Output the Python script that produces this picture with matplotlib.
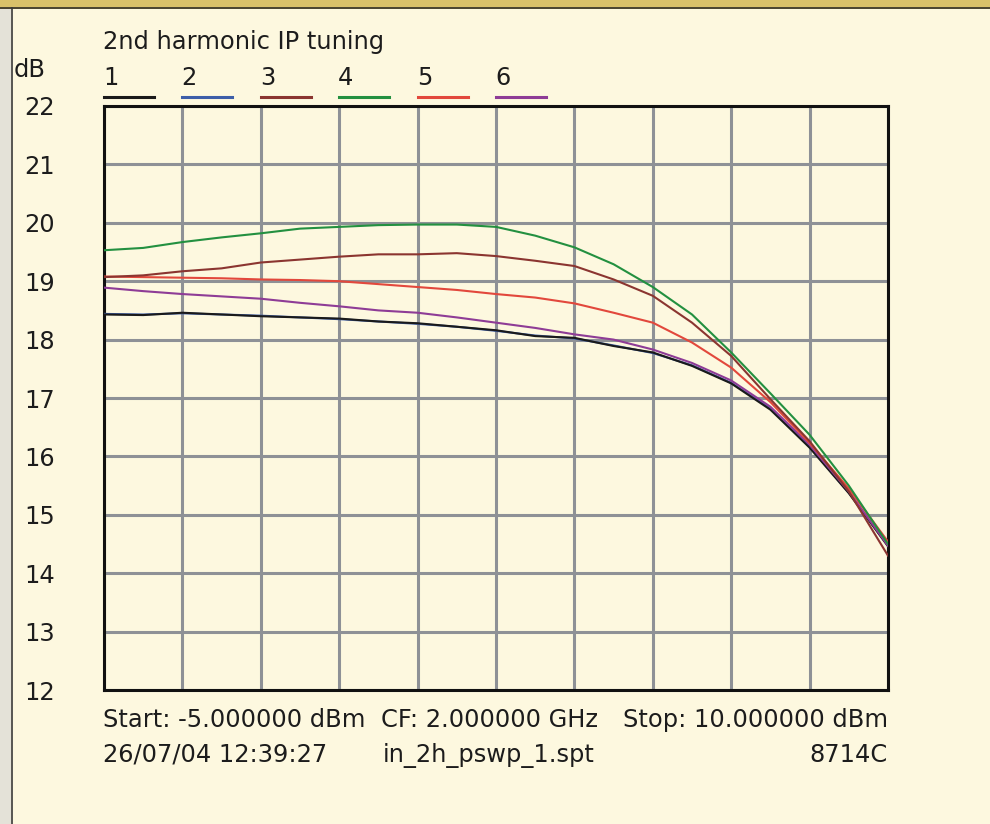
import matplotlib
matplotlib.use("Agg")
import matplotlib.pyplot as plt
from matplotlib.patches import Rectangle
from matplotlib.lines import Line2D

# ---- data ----
power_dbm = [-5, -4.25, -3.5, -2.75, -2, -1.25, -0.5, 0.25, 1, 1.75, 2.5,
             3.25, 4, 4.75, 5.5, 6.25, 7, 7.75, 8.5, 9.25, 10]
trace1 = [18.43, 18.42, 18.46, 18.43, 18.40, 18.38, 18.36, 18.31, 18.28, 18.22, 18.16,
          18.06, 18.03, 17.89, 17.78, 17.55, 17.25, 16.80, 16.15, 15.37, 14.46]
trace2 = [18.44, 18.43, 18.45, 18.43, 18.41, 18.38, 18.35, 18.31, 18.27, 18.22, 18.15,
          18.07, 18.02, 17.90, 17.77, 17.56, 17.26, 16.82, 16.16, 15.38, 14.47]
trace3 = [19.07, 19.10, 19.17, 19.22, 19.32, 19.37, 19.42, 19.46, 19.46, 19.48, 19.43,
          19.35, 19.26, 19.03, 18.75, 18.29, 17.72, 16.98, 16.26, 15.40, 14.30]
trace4 = [19.53, 19.57, 19.67, 19.75, 19.82, 19.90, 19.93, 19.96, 19.97, 19.97, 19.93,
          19.78, 19.58, 19.29, 18.90, 18.43, 17.78, 17.08, 16.37, 15.50, 14.50]
trace5 = [19.08, 19.07, 19.06, 19.05, 19.03, 19.02, 19.00, 18.95, 18.90, 18.85, 18.78,
          18.72, 18.62, 18.46, 18.29, 17.95, 17.52, 16.93, 16.23, 15.45, 14.54]
trace6 = [18.89, 18.83, 18.78, 18.74, 18.70, 18.63, 18.57, 18.50, 18.46, 18.38, 18.29,
          18.20, 18.09, 18.00, 17.83, 17.60, 17.30, 16.85, 16.20, 15.40, 14.47]
trace_labels = ["1", "2", "3", "4", "5", "6"]
traces = [trace1, trace2, trace3, trace4, trace5, trace6]
x_start, x_stop = -5.0, 10.0
y_ticks = [12, 13, 14, 15, 16, 17, 18, 19, 20, 21, 22]
title = "2nd harmonic IP tuning"
footer_row1 = ["Start: -5.000000 dBm", "CF: 2.000000 GHz", "Stop: 10.000000 dBm"]
footer_row2 = ["26/07/04 12:39:27", "in_2h_pswp_1.spt", "8714C"]

# ---- style ----
colors = ["#1a1a1a", "#3d5ea8", "#8b3530", "#239040", "#e2483c", "#8e3c96"]
draw_order = [1, 0, 5, 4, 2, 3]
bg = "#fdf8df"
txt = "#1c1c1c"
W, H = 990, 824
FONT = ["DejaVu Sans"]
FS = 17.4
plt.rcParams["font.family"] = FONT

fig = plt.figure(figsize=(W / 100, H / 100), dpi=100)
fig.patch.set_facecolor(bg)

def fx(px):
    return px / W

def fy(py):
    return 1 - py / H

# window decorations
fig.add_artist(Rectangle((0, fy(7)), 1, 7 / H, transform=fig.transFigure,
                         facecolor="#d9c16a", edgecolor="none", zorder=0))
fig.add_artist(Line2D([0, 1], [fy(7.5), fy(7.5)], transform=fig.transFigure,
                      color="#2a2410", lw=1.2))
fig.add_artist(Rectangle((0, 0), 11 / W, fy(8), transform=fig.transFigure,
                         facecolor="#e4e2d8", edgecolor="none", zorder=0))
fig.add_artist(Line2D([fx(12), fx(12)], [0, fy(8)], transform=fig.transFigure,
                      color="#3a3a3a", lw=1.2))

# axes
left, right, top, bottom = 104, 888, 106, 690
ax = fig.add_axes([fx(left), fy(bottom), (right - left) / W, (bottom - top) / H])
ax.set_facecolor(bg)
ax.set_xlim(x_start, x_stop)
ax.set_ylim(y_ticks[0], y_ticks[-1])
step = (x_stop - x_start) / 10
ax.set_xticks([x_start + i * step for i in range(11)])
ax.set_xticklabels([])
ax.set_yticks(y_ticks)
ax.set_yticklabels([str(t) for t in y_ticks], fontsize=FS, color=txt)
ax.tick_params(axis="both", length=0)
ax.tick_params(axis="y", pad=35.5)
ax.grid(True, color="#8e9196", lw=2.2)
ax.set_axisbelow(True)
for s in ax.spines.values():
    s.set_color("#111111")
    s.set_linewidth(2.2)

for i in draw_order:
    ax.plot(power_dbm, traces[i], color=colors[i], lw=1.5, zorder=3)

# titles / legend
fig.text(fx(103), fy(49), title, fontsize=FS, color=txt, va="baseline")
fig.text(fx(14), fy(77), "dB", fontsize=FS, color=txt, va="baseline")
leg_x = [104, 182, 261, 339, 418, 496]
for lab, c, px in zip(trace_labels, colors, leg_x):
    fig.text(fx(px - 1), fy(85), lab, fontsize=FS, color=txt, va="baseline")
    fig.add_artist(Line2D([fx(px), fx(px + 50)], [fy(96.5), fy(96.5)],
                          transform=fig.transFigure, color=c, lw=2.2))

# footer
fig.text(fx(103), fy(727), footer_row1[0], fontsize=FS, color=txt, va="baseline")
fig.text(fx(381), fy(727), footer_row1[1], fontsize=FS, color=txt, va="baseline")
fig.text(fx(888), fy(727), footer_row1[2], fontsize=FS, color=txt, va="baseline", ha="right")
fig.text(fx(103), fy(762), footer_row2[0], fontsize=FS, color=txt, va="baseline")
fig.text(fx(383), fy(762), footer_row2[1], fontsize=FS, color=txt, va="baseline")
fig.text(fx(888), fy(762), footer_row2[2], fontsize=FS, color=txt, va="baseline", ha="right")

fig.savefig("out.png", dpi=100, facecolor=bg)
